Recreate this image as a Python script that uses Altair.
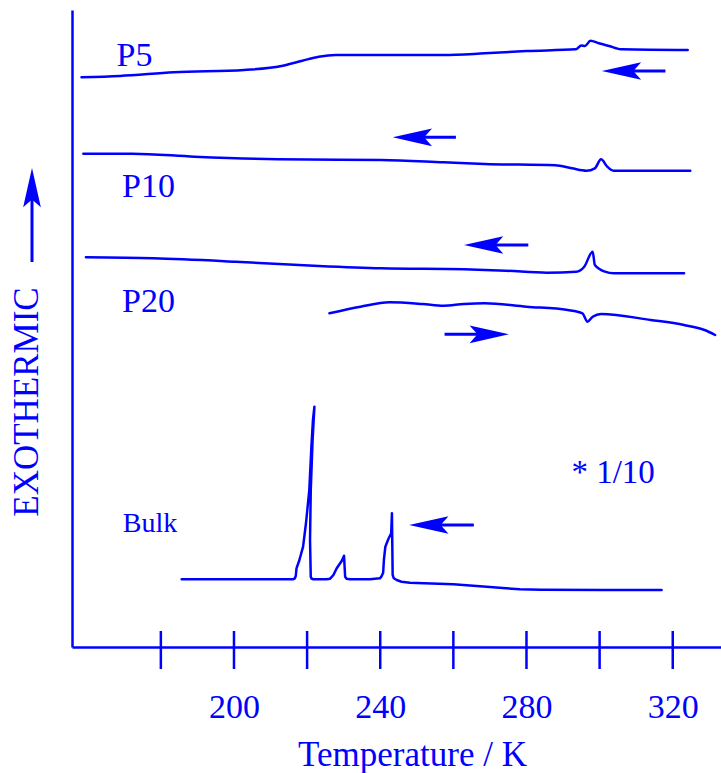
import altair as alt
import pandas as pd

BLUE = "#0000ff"
FONT = "Liberation Serif"

# ---- curves (temperature in K, signal in arbitrary units, exothermic up) ----
p5_T = [158.3, 168.8, 183.5, 202.8, 213.0, 218.7, 223.2, 227.8, 257.3, 268.6, 280.0,
        293.5, 295.0, 296.0, 297.5, 299.8, 302.6, 306.1, 324.1]
p5_v = [569.7, 571.0, 574.7, 577.0, 581.0, 586.3, 590.3, 592.0, 592.0, 593.7, 596.0,
        597.7, 601.5, 601.0, 606.3, 603.7, 601.0, 597.7, 597.0]

p10_T = [158.8, 172.2, 189.2, 211.9, 240.3, 257.3, 268.6, 287.9, 292.4, 296.4, 298.7,
         300.4, 302.1, 303.8, 324.8]
p10_v = [493.3, 493.3, 490.3, 487.7, 487.0, 484.7, 483.0, 481.7, 478.7, 476.3, 478.7,
         487.7, 480.3, 476.3, 476.3]

p20c_T = [159.5, 177.9, 200.5, 223.2, 240.3, 262.9, 274.3, 285.6, 293.6, 295.8, 298.1,
          298.7, 301.5, 303.8, 323.1]
p20c_v = [389.7, 388.7, 385.3, 381.0, 378.7, 377.7, 376.3, 374.3, 375.3, 380.3, 395.3,
          382.0, 375.3, 373.7, 373.7]

p20h_T = [226.1, 234.6, 242.5, 251.6, 257.3, 262.9, 268.6, 280.0, 291.3, 295.3, 296.7,
          298.1, 300.4, 314.0, 323.1, 328.7, 331.6]
p20h_v = [333.7, 340.3, 344.7, 343.0, 341.3, 343.0, 343.7, 340.3, 337.0, 333.7, 325.3,
          330.3, 333.0, 327.0, 322.0, 317.0, 312.0]

# bulk, in recording order (cooling: high T -> low T)
bulk_T = [316.95, 301.0, 284.0, 278.2, 273.5, 269.1, 260.0, 252.0, 248.1, 245.8, 244.5, 243.7,
          243.4, 243.2, 243.0, 242.2,
          241.4, 241.0, 240.8, 240.3, 239.9, 237.2, 231.7, 230.8, 230.4, 230.1, 229.5, 228.1,
          227.2, 226.3, 225.3, 221.7, 221.2, 221.0, 220.8, 221.0, 221.5, 222.0, 221.6, 221.2,
          220.6, 219.7, 218.9, 217.9, 217.1, 216.9, 216.6, 216.1, 185.7]
bulk_v = [57.0, 57.0, 57.2, 57.7, 59.0, 60.3, 62.7, 63.8, 64.3, 65.3, 67.0, 68.8,
          72.0, 133.7, 113.7, 107.7,
          100.3, 87.0, 74.3, 70.3, 68.7, 67.7, 67.7, 68.3, 70.3, 91.3, 86.3, 78.7,
          72.0, 68.3, 67.7, 67.7, 68.5, 70.3, 107.0, 157.0, 207.0, 240.3, 227.0, 202.0,
          157.0, 124.0, 100.3, 87.0, 78.7, 71.0, 68.5, 67.7, 67.7]

# ---- annotations ----
label_text = ["P5", "P10", "P20", "Bulk", "* 1/10"]
label_T = [167.9, 169.4, 169.4, 169.6, 292.3]
label_v = [581.0, 449.7, 335.3, 115.3, 163.7]
label_size = [34, 34, 34, 28, 33]

arrow_tip_T = [300.6, 243.4, 262.9, 275.2, 247.9]
arrow_tail_T = [318.0, 260.7, 280.5, 257.6, 265.6]
arrow_v = [576.0, 509.7, 402.0, 312.7, 122.0]
arrow_dir = ["left", "left", "left", "right", "left"]

tick_values = [180, 200, 220, 240, 260, 280, 300, 320]
x_domain = [155.7, 333.2]
y_domain = [0, 637]

# ---- build tables ----
rows = []
for name, Ts, vs in [("P5", p5_T, p5_v), ("P10", p10_T, p10_v), ("P20c", p20c_T, p20c_v),
                     ("P20h", p20h_T, p20h_v), ("Bulk", bulk_T, bulk_v)]:
    for i, (t, v) in enumerate(zip(Ts, vs)):
        rows.append({"series": name, "i": i, "T": t, "v": v})
curves = pd.DataFrame(rows)
labels = pd.DataFrame({"text": label_text, "T": label_T, "v": label_v, "fs": label_size})
arrows = pd.DataFrame({"tip": arrow_tip_T, "tail": arrow_tail_T, "v": arrow_v, "dir": arrow_dir})
ticks = pd.DataFrame({"T": tick_values})
one = pd.DataFrame({"a": [0]})

xs = alt.Scale(domain=x_domain, nice=False, zero=False)
ys = alt.Scale(domain=y_domain, nice=False, zero=False)

x_axis = alt.Axis(values=tick_values, ticks=False, tickSize=0, grid=False,
                  labelExpr="datum.value % 40 == 0 ? datum.label : ''",
                  labelFont=FONT, labelFontSize=34, labelColor=BLUE,
                  labelBaseline="alphabetic", labelPadding=70, labelFlush=False,
                  labelOverlap=False, format="d",
                  domainColor=BLUE, domainWidth=2.5,
                  title="Temperature / K", titleFont=FONT, titleFontSize=35,
                  titleColor=BLUE, titleFontWeight="normal", titleX=340,
                  titleY=118, titleAlign="center", titleBaseline="alphabetic")
y_axis = alt.Axis(domain=True, ticks=False, labels=False, grid=False,
                  domainColor=BLUE, domainWidth=2.5)

base_x = alt.X("T:Q", scale=xs, axis=x_axis, title="Temperature / K")
base_y = alt.Y("v:Q", scale=ys, axis=y_axis, title=None)

smooth_lines = alt.Chart(curves).transform_filter(alt.datum.series != "Bulk").mark_line(
    color=BLUE, strokeWidth=2.5, strokeJoin="round", strokeCap="round",
    interpolate="monotone").encode(
    x=base_x, y=base_y, detail="series:N", order=alt.Order("i:Q"))

bulk_line = alt.Chart(curves).transform_filter(alt.datum.series == "Bulk").mark_line(
    color=BLUE, strokeWidth=2.5, strokeJoin="round", strokeCap="round").encode(
    x=alt.X("T:Q", scale=xs), y=alt.Y("v:Q", scale=ys), order=alt.Order("i:Q"))

tick_rules = alt.Chart(ticks).mark_rule(color=BLUE, strokeWidth=2.5).encode(
    x=alt.X("T:Q", scale=xs), y=alt.value(621), y2=alt.value(659))

texts = alt.Chart(labels).mark_text(color=BLUE, font=FONT, align="left",
                                    baseline="alphabetic").encode(
    x=alt.X("T:Q", scale=xs), y=alt.Y("v:Q", scale=ys), text="text:N",
    size=alt.Size("fs:Q", scale=None))

left_path = "M0,0 L2,-0.45 L1.6,0 L2,0.45 Z"
right_path = "M0,0 L-2,-0.45 L-1.6,0 L-2,0.45 Z"
up_path = "M0,0 L-0.45,2 L0,1.6 L0.45,2 Z"

arrow_layers = []
for d, path, off in [("left", left_path, 30), ("right", right_path, -30)]:
    sub = alt.Chart(arrows).transform_filter(alt.datum.dir == d)
    arrow_layers.append(sub.mark_rule(color=BLUE, strokeWidth=3, x2Offset=off).encode(
        x=alt.X("tail:Q", scale=xs), x2="tip:Q", y=alt.Y("v:Q", scale=ys)))
    arrow_layers.append(sub.mark_point(shape=path, filled=True, size=1550, fill=BLUE,
                                       strokeWidth=0, opacity=1).encode(
        x=alt.X("tip:Q", scale=xs), y=alt.Y("v:Q", scale=ys)))

exo_shaft = alt.Chart(one).mark_rule(color=BLUE, strokeWidth=3).encode(
    x=alt.value(-40), y=alt.value(188), y2=alt.value(252))
exo_head = alt.Chart(one).mark_point(shape=up_path, filled=True, size=1550, fill=BLUE,
                                     strokeWidth=0, opacity=1).encode(
    x=alt.value(-40), y=alt.value(158))
exo_text = alt.Chart(one).mark_text(text="EXOTHERMIC", color=BLUE, font=FONT, fontSize=35,
                                    angle=270, align="center", baseline="alphabetic").encode(
    x=alt.value(-34), y=alt.value(392))

chart = alt.layer(smooth_lines, bulk_line, tick_rules, texts, *arrow_layers,
                  exo_shaft, exo_head, exo_text).properties(
    width=649, height=637,
    autosize=alt.AutoSizeParams(type="none"),
    padding={"left": 72, "top": 10, "right": 0, "bottom": 126},
    background="white",
).configure_view(stroke=None)

chart.save("out.html", embed_options={"renderer": "svg", "actions": False})
